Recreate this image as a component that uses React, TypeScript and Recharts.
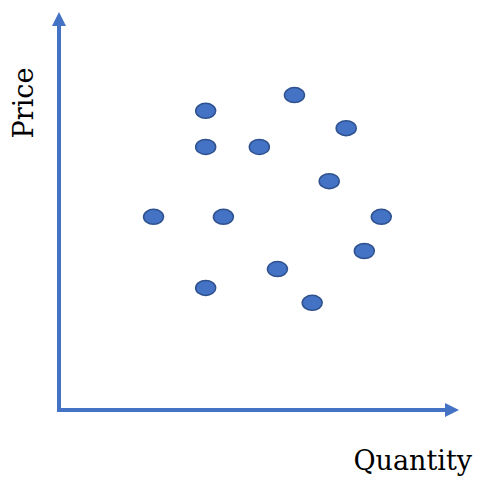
import React from 'react';
import { ScatterChart, Scatter, XAxis, YAxis, ReferenceLine } from 'recharts';

// arbitrary units 0-100
const quantity = [24.5, 38, 38, 42.6, 38, 51.9, 61, 74.4, 70, 83.5, 79.1, 56.6, 65.6];
const price = [50.3, 77.9, 68.5, 50.3, 31.8, 68.5, 82, 73.4, 59.6, 50.3, 41.4, 36.7, 27.9];

const points = quantity.map((q, i) => ({ quantity: q, price: price[i] }));

const BLUE = '#4472C4';

const Dot = (props: any) => (
  <ellipse
    cx={props.cx}
    cy={props.cy}
    rx={10}
    ry={7.5}
    fill={BLUE}
    stroke="#2F528F"
    strokeWidth={1.5}
  />
);

const App: React.FC = () => {
  return (
    <div style={{ position: 'absolute', left: 0, top: 0, width: 478, height: 482, background: '#fff' }}>
      <ScatterChart
        width={478}
        height={482}
        margin={{ top: 26, right: 33, bottom: 72, left: 59 }}
      >
        <defs>
          <marker
            id="arrow"
            markerUnits="userSpaceOnUse"
            markerWidth={14}
            markerHeight={14}
            viewBox="0 0 14 14"
            refX={0}
            refY={7}
            orient="auto"
          >
            <path d="M0,0 L14,7 L0,14 z" fill={BLUE} />
          </marker>
        </defs>
        <XAxis type="number" dataKey="quantity" domain={[0, 100]} hide />
        <YAxis type="number" dataKey="price" domain={[0, 100]} hide />
        <ReferenceLine
          segment={[{ x: -0.5, y: 0 }, { x: 100, y: 0 }]}
          stroke={BLUE}
          strokeWidth={4}
          markerEnd="url(#arrow)"
          ifOverflow="visible"
        />
        <ReferenceLine
          segment={[{ x: 0, y: -0.5 }, { x: 0, y: 100 }]}
          stroke={BLUE}
          strokeWidth={4}
          markerEnd="url(#arrow)"
          ifOverflow="visible"
        />
        <Scatter data={points} shape={Dot} isAnimationActive={false} />
      </ScatterChart>
      <svg
        width={478}
        height={482}
        style={{ position: 'absolute', left: 0, top: 0, pointerEvents: 'none' }}
        fontFamily="'DejaVu Serif', serif"
        fontSize={27}
        fill="#000"
      >
        <text x={33} y={103} textAnchor="middle" transform="rotate(-90 33 103)">
          Price
        </text>
        <text x={472} y={470} textAnchor="end">
          Quantity
        </text>
      </svg>
    </div>
  );
};

export default App;
